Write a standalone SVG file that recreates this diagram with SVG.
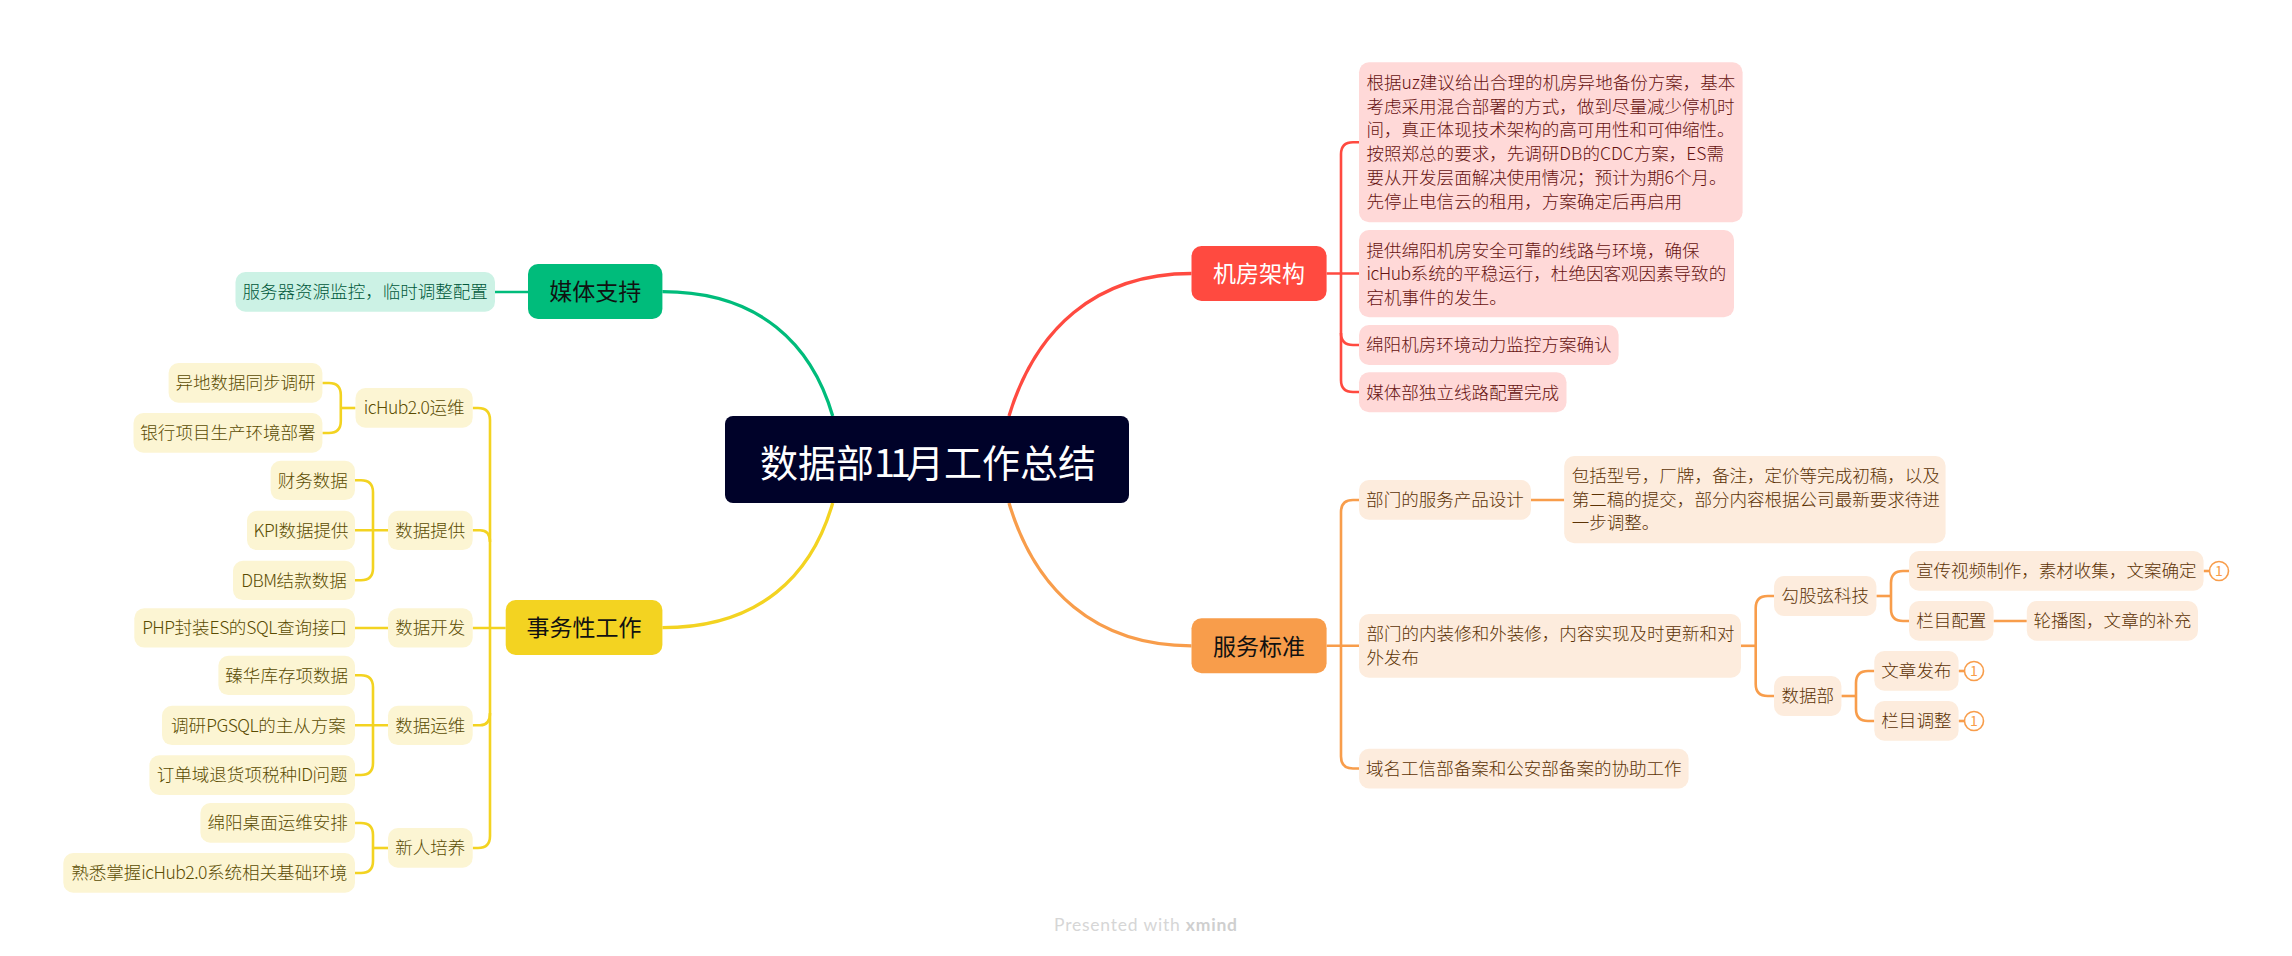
<svg xmlns="http://www.w3.org/2000/svg" width="2292" height="956" viewBox="0 0 2292 956">
<style>
text{font-family:"Noto Sans CJK SC","Noto Sans",sans-serif;font-size:17.55px;font-weight:300}
.m{text-anchor:middle}
.n{letter-spacing:-.5px}
.l{fill:none;stroke-linecap:butt}
.main{stroke-width:3.3}
.sub{stroke-width:2.6}
.R{stroke:#ff4a40}.O{stroke:#f89d4b}.Y{stroke:#f3d321}.G{stroke:#00bc7b}
.rs{fill:#ffd9d8}.os{fill:#fdecdd}.ys{fill:#fcf5d3}.gs{fill:#ccf2e5}
.rt{fill:#661210}.ot{fill:#5c3305}.yt{fill:#5a4c02}.gt{fill:#00583a}
.big{font-size:23px;text-anchor:middle;font-weight:400}
.badge{fill:#fff;stroke:#f89d4b;stroke-width:1.6}
.bt{fill:#f89d4b;font-size:14px;text-anchor:middle;font-weight:400}
</style>
<rect width="2292" height="956" fill="#fff"/>
<g id="connectors" class="l">
<g class="main">
<path class="R" d="M1191.5,273.5C1095,273.5 1035,330 1009,416"/>
<path class="O" d="M1191.5,645.8C1095,645.8 1035,590 1009,503"/>
<path class="G" d="M662.4,291.7C760,291.7 812,345 832.7,416"/>
<path class="Y" d="M662.4,627.7C760,627.7 812,575 832.7,503"/>
</g>
<g class="sub R">
<path d="M1326.6,273.5H1359"/>
<path d="M1359,142.3H1353Q1341,142.3 1341,154.3V380Q1341,392 1353,392H1359"/>
<path d="M1359,345H1353Q1341,345 1341,333"/>
</g>
<g class="sub O">
<path d="M1326.6,645.8H1359"/>
<path d="M1359,500H1353Q1341,500 1341,512V756.5Q1341,768.5 1353,768.5H1359"/>
<path d="M1531,500H1564.2"/>
<path d="M1741,645.8H1755.7"/>
<path d="M1774,596H1767.7Q1755.7,596 1755.7,608V684Q1755.7,696 1767.7,696H1774"/>
<path d="M1876.4,596H1891"/>
<path d="M1909,571H1903Q1891,571 1891,583V609Q1891,621 1903,621H1909"/>
<path d="M1993.6,621H2026.8"/>
<path d="M2203.6,571H2209"/>
<path d="M1841.4,696H1856"/>
<path d="M1874.3,671H1868Q1856,671 1856,683V709Q1856,721 1868,721H1874.3"/>
<path d="M1958.6,671H1964"/>
<path d="M1958.6,721H1964"/>
</g>
<g class="sub G">
<path d="M495,292H528"/>
</g>
<g class="sub Y">
<path d="M472.7,408H478Q490,408 490,420V836Q490,848 478,848H472.7"/>
<path d="M472.7,530.3H480Q490,530.3 490,542"/>
<path d="M472.7,628H505.7"/>
<path d="M472.7,725.3H480Q490,725.3 490,713"/>
<path d="M322.4,383H329Q340.8,383 340.8,395V421Q340.8,433 329,433H322.4"/>
<path d="M340.8,408H355.5"/>
<path d="M355,480.3H361Q373,480.3 373,492.3V568.3Q373,580.3 361,580.3H355"/>
<path d="M355,530.3H388"/>
<path d="M355,628H388"/>
<path d="M355,675.3H361Q373,675.3 373,687.3V763Q373,775 361,775H355"/>
<path d="M355,725.3H388"/>
<path d="M355,823H361Q373,823 373,835V861Q373,873 361,873H355"/>
<path d="M373,848H388"/>
</g>
</g>
<g id="root"><rect x="725" y="416" width="404" height="87" rx="8" fill="#000229"/><text x="928" y="477" class="m" style="font-size:38px;font-weight:400" fill="#fff">数据部<tspan letter-spacing="-5">11</tspan>月工作总结</text></g>
<g id="t-jf"><rect x="1191.5" y="246" width="135.1" height="55" rx="10" fill="#ff4a40"/><text x="1259" y="282" class="big" fill="#fff">机房架构</text></g>
<g id="t-fw"><rect x="1191.5" y="618.3" width="135.1" height="55" rx="10" fill="#f89d4b"/><text x="1259" y="654.5" class="big" fill="#111">服务标准</text></g>
<g id="t-mt"><rect x="528" y="264" width="134.4" height="55" rx="10" fill="#00bc7b"/><text x="595.2" y="300.3" class="big" fill="#111">媒体支持</text></g>
<g id="t-sw"><rect x="505.7" y="600" width="156.7" height="55" rx="10" fill="#f3d321"/><text x="584" y="636.3" class="big" fill="#111">事务性工作</text></g>

<g id="r1"><rect class="rs" x="1359" y="62.3" width="383.6" height="160" rx="10"/><text class="rt" x="1366.5"><tspan x="1366.5" y="89">根据uz建议给出合理的机房异地备份方案，基本</tspan><tspan x="1366.5" y="112.7">考虑采用混合部署的方式，做到尽量减少停机时</tspan><tspan x="1366.5" y="136.4">间，真正体现技术架构的高可用性和可伸缩性。</tspan><tspan x="1366.5" y="160.1">按照郑总的要求，先调研DB的CDC方案，ES需</tspan><tspan x="1366.5" y="183.8">要从开发层面解决使用情况；预计为期6个月。</tspan><tspan x="1366.5" y="207.5">先停止电信云的租用，方案确定后再启用</tspan></text></g>
<g id="r2"><rect class="rs" x="1359" y="230" width="375" height="87.3" rx="10"/><text class="rt"><tspan x="1366.5" y="256.5">提供绵阳机房安全可靠的线路与环境，确保</tspan><tspan x="1366.5" y="280.2" class="n">icHub</tspan><tspan>系统的平稳运行，杜绝因客观因素导致的</tspan><tspan x="1366.5" y="303.9">宕机事件的发生。</tspan></text></g>
<g id="r3"><rect class="rs" x="1359" y="325" width="259.6" height="40" rx="10"/><text class="rt m" x="1488.8" y="351.3">绵阳机房环境动力监控方案确认</text></g>
<g id="r4"><rect class="rs" x="1359" y="372.3" width="207.5" height="40" rx="10"/><text class="rt m" x="1462.7" y="398.6">媒体部独立线路配置完成</text></g>

<g id="o1"><rect class="os" x="1359" y="480" width="172" height="39.7" rx="10"/><text class="ot m" x="1445" y="506.3">部门的服务产品设计</text></g>
<g id="o1a"><rect class="os" x="1564.2" y="456" width="381.4" height="87.3" rx="10"/><text class="ot"><tspan x="1571.7" y="482">包括型号，厂牌，备注，定价等完成初稿，以及</tspan><tspan x="1571.7" y="505.7">第二稿的提交，部分内容根据公司最新要求待进</tspan><tspan x="1571.7" y="529.4">一步调整。</tspan></text></g>
<g id="o2"><rect class="os" x="1359" y="614" width="382" height="63.7" rx="10"/><text class="ot"><tspan x="1366.5" y="640">部门的内装修和外装修，内容实现及时更新和对</tspan><tspan x="1366.5" y="663.7">外发布</tspan></text></g>
<g id="o3"><rect class="os" x="1359" y="748.7" width="329.6" height="39.7" rx="10"/><text class="ot m" x="1523.8" y="774.8">域名工信部备案和公安部备案的协助工作</text></g>
<g id="o21"><rect class="os" x="1774" y="576" width="102.4" height="40" rx="10"/><text class="ot m" x="1825.2" y="602.3">勾股弦科技</text></g>
<g id="o22"><rect class="os" x="1774" y="676" width="67.4" height="40" rx="10"/><text class="ot m" x="1807.7" y="702.3">数据部</text></g>
<g id="o211"><rect class="os" x="1909" y="551" width="294.6" height="39.7" rx="10"/><text class="ot m" x="2056.3" y="577.2">宣传视频制作，素材收集，文案确定</text></g>
<g id="o212"><rect class="os" x="1909" y="601" width="84.6" height="39.7" rx="10"/><text class="ot m" x="1951.3" y="627.2">栏目配置</text></g>
<g id="o2121"><rect class="os" x="2026.8" y="601" width="171.2" height="39.7" rx="10"/><text class="ot m" x="2112.4" y="627.2">轮播图，文章的补充</text></g>
<g id="o221"><rect class="os" x="1874.3" y="651" width="84.3" height="39.7" rx="10"/><text class="ot m" x="1916.4" y="677.2">文章发布</text></g>
<g id="o222"><rect class="os" x="1874.3" y="701" width="84.3" height="39.7" rx="10"/><text class="ot m" x="1916.4" y="727.2">栏目调整</text></g>
<g id="b1"><circle class="badge" cx="2219" cy="571" r="9.5"/><text class="bt" x="2219" y="576">1</text></g>
<g id="b2"><circle class="badge" cx="1974" cy="671" r="9.5"/><text class="bt" x="1974" y="676">1</text></g>
<g id="b3"><circle class="badge" cx="1974" cy="721" r="9.5"/><text class="bt" x="1974" y="726">1</text></g>

<g id="g1"><rect class="gs" x="235.5" y="272" width="259.5" height="39.7" rx="10"/><text class="gt m" x="365.2" y="298.2">服务器资源监控，临时调整配置</text></g>

<g id="y1"><rect class="ys" x="355.5" y="388" width="117.2" height="39.7" rx="10"/><text class="yt m" x="414.1" y="414.2"><tspan class="n">icHub2.0</tspan>运维</text></g>
<g id="y11"><rect class="ys" x="168.6" y="363" width="153.8" height="39.7" rx="10"/><text class="yt m" x="245.5" y="389.2">异地数据同步调研</text></g>
<g id="y12"><rect class="ys" x="133.5" y="413" width="188.9" height="39.7" rx="10"/><text class="yt m" x="228" y="439.2">银行项目生产环境部署</text></g>
<g id="y2"><rect class="ys" x="388" y="510.7" width="84.7" height="39.4" rx="10"/><text class="yt m" x="430.3" y="536.6">数据提供</text></g>
<g id="y21"><rect class="ys" x="270.6" y="460.7" width="84.4" height="39.4" rx="10"/><text class="yt m" x="312.8" y="486.6">财务数据</text></g>
<g id="y22"><rect class="ys" x="247" y="510.7" width="108" height="39.4" rx="10"/><text class="yt m" x="301" y="536.6"><tspan class="n">KPI</tspan>数据提供</text></g>
<g id="y23"><rect class="ys" x="233" y="560.7" width="122" height="39.4" rx="10"/><text class="yt m" x="294" y="586.6"><tspan class="n">DBM</tspan>结款数据</text></g>
<g id="y3"><rect class="ys" x="388" y="608.2" width="84.7" height="39.4" rx="10"/><text class="yt m" x="430.3" y="634.2">数据开发</text></g>
<g id="y31"><rect class="ys" x="134.3" y="608.2" width="220.7" height="39.4" rx="10"/><text class="yt m" x="244.6" y="634.2"><tspan class="n">PHP</tspan>封装<tspan class="n">ES</tspan>的<tspan class="n">SQL</tspan>查询接口</text></g>
<g id="y4"><rect class="ys" x="388" y="705.7" width="84.7" height="39.4" rx="10"/><text class="yt m" x="430.3" y="731.6">数据运维</text></g>
<g id="y41"><rect class="ys" x="218.4" y="655.7" width="136.6" height="39.4" rx="10"/><text class="yt m" x="286.7" y="681.6">臻华库存项数据</text></g>
<g id="y42"><rect class="ys" x="162" y="705.7" width="193" height="39.4" rx="10"/><text class="yt m" x="258.5" y="731.6">调研<tspan class="n">PGSQL</tspan>的主从方案</text></g>
<g id="y43"><rect class="ys" x="149.4" y="755.3" width="205.6" height="39.7" rx="10"/><text class="yt m" x="252.2" y="781.3">订单域退货项税种<tspan class="n">ID</tspan>问题</text></g>
<g id="y5"><rect class="ys" x="388" y="828" width="84.7" height="39.7" rx="10"/><text class="yt m" x="430.3" y="854.2">新人培养</text></g>
<g id="y51"><rect class="ys" x="200.4" y="803" width="154.6" height="39.7" rx="10"/><text class="yt m" x="277.7" y="829.2">绵阳桌面运维安排</text></g>
<g id="y52"><rect class="ys" x="63.3" y="853" width="291.7" height="39.7" rx="10"/><text class="yt m" x="209.2" y="879.2">熟悉掌握<tspan class="n">icHub2.0</tspan>系统相关基础环境</text></g>
<text x="1054" y="931" textLength="183" style="font-family:Lato,sans-serif;font-size:17.5px;font-weight:400" fill="#d6d6d6">Presented with <tspan font-weight="700" fill="#cfcfcf">xmind</tspan></text>
</svg>
